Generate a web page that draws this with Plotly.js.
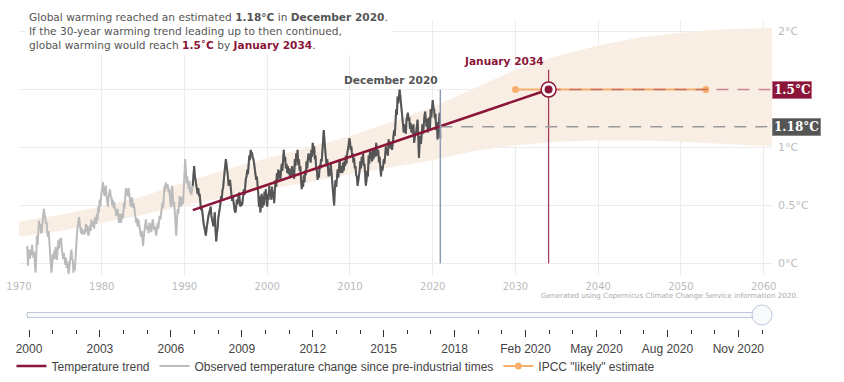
<!DOCTYPE html>
<html><head><meta charset="utf-8">
<script src="https://cdn.plot.ly/plotly-3.0.1.min.js"></script>
<style>html,body{margin:0;padding:0;background:#fff}</style>
</head><body><div id="chart" style="width:844px;height:382px"></div>
<script>
// ---- data ----
const obsStartYear = 1971;
const observed = [
 0.15,-0.02,0.08,0.12,0.04,0.12,0.07,0.16,0.09,0.05,0.10,0.03,
 -0.08,0.05,0.24,0.16,0.30,0.37,0.30,0.34,0.26,0.28,0.34,0.40,
 0.47,0.42,0.40,0.34,0.36,0.27,0.23,0.28,0.18,0.17,0.08,-0.08,
 -0.02,0.08,0.03,0.11,0.04,0.14,0.07,0.03,0.12,0.20,0.13,0.21,
 0.18,0.22,0.13,0.10,0.04,0.09,0.01,-0.01,0.05,-0.04,0.02,-0.05,
 -0.09,-0.03,0.04,0.09,0.12,0.04,0.03,-0.08,-0.01,-0.06,0.10,0.21,
 0.25,0.31,0.35,0.40,0.35,0.32,0.26,0.31,0.25,0.27,0.29,0.25,
 0.30,0.34,0.27,0.33,0.26,0.24,0.29,0.33,0.28,0.38,0.32,0.36,
 0.35,0.30,0.40,0.36,0.34,0.43,0.37,0.49,0.44,0.55,0.49,0.58,
 0.61,0.67,0.70,0.62,0.58,0.64,0.67,0.58,0.55,0.49,0.57,0.61,
 0.64,0.58,0.57,0.50,0.55,0.48,0.53,0.46,0.47,0.41,0.45,0.47,
 0.42,0.35,0.40,0.43,0.35,0.38,0.43,0.39,0.52,0.47,0.58,0.65,
 0.63,0.59,0.58,0.65,0.60,0.53,0.49,0.54,0.57,0.48,0.52,0.49,
 0.45,0.39,0.35,0.39,0.32,0.38,0.33,0.29,0.28,0.23,0.28,0.20,
 0.15,0.23,0.27,0.32,0.38,0.32,0.29,0.32,0.26,0.35,0.31,0.28,
 0.27,0.34,0.38,0.33,0.29,0.32,0.25,0.24,0.29,0.35,0.30,0.38,
 0.41,0.38,0.44,0.48,0.52,0.48,0.60,0.67,0.62,0.70,0.65,0.68,
 0.67,0.61,0.64,0.57,0.49,0.56,0.67,0.60,0.49,0.53,0.43,0.38,
 0.24,0.36,0.47,0.43,0.52,0.58,0.52,0.49,0.56,0.57,0.51,0.60,
 0.78,0.90,0.82,0.69,0.75,0.66,0.64,0.71,0.61,0.66,0.59,0.63,
 0.67,0.76,0.84,0.76,0.72,0.68,0.67,0.60,0.65,0.58,0.60,0.53,
 0.46,0.49,0.42,0.41,0.33,0.31,0.26,0.24,0.30,0.35,0.39,0.42,
 0.44,0.48,0.49,0.41,0.38,0.33,0.32,0.37,0.44,0.29,0.19,0.26,
 0.30,0.39,0.42,0.47,0.51,0.58,0.54,0.63,0.65,0.72,0.77,0.84,
 0.90,0.85,0.81,0.75,0.67,0.71,0.72,0.66,0.62,0.54,0.58,0.51,
 0.49,0.45,0.44,0.49,0.55,0.51,0.58,0.61,0.55,0.49,0.53,0.50,
 0.52,0.56,0.64,0.59,0.68,0.73,0.75,0.81,0.77,0.86,0.93,0.89,
 0.98,0.95,0.95,0.91,0.90,0.86,0.82,0.76,0.72,0.75,0.69,0.60,
 0.49,0.58,0.44,0.52,0.60,0.48,0.58,0.50,0.62,0.55,0.64,0.52,
 0.49,0.60,0.55,0.67,0.58,0.63,0.55,0.66,0.57,0.62,0.52,0.62,
 0.72,0.66,0.78,0.70,0.81,0.74,0.80,0.72,0.79,0.86,0.80,0.92,
 0.98,0.88,0.92,0.82,0.86,0.78,0.84,0.77,0.82,0.74,0.81,0.76,
 0.84,0.76,0.80,0.73,0.90,0.84,0.95,0.88,0.98,0.85,0.90,0.80,
 0.84,0.72,0.64,0.72,0.66,0.76,0.70,0.80,0.76,0.88,0.82,0.91,
 0.95,0.89,0.93,0.87,0.98,0.92,1.04,0.95,1.01,0.90,0.93,0.81,
 0.81,0.72,0.78,0.74,0.85,0.82,0.90,0.88,0.96,1.03,1.15,1.06,
 0.98,0.90,0.84,0.90,0.80,0.75,0.82,0.76,0.87,0.78,0.70,0.61,
 0.55,0.50,0.64,0.72,0.66,0.78,0.81,0.74,0.85,0.90,0.82,0.78,
 0.84,0.78,0.87,0.80,0.88,0.84,0.93,0.86,0.95,0.98,1.02,1.08,
 1.05,0.98,1.01,0.93,0.95,0.87,0.91,0.82,0.84,0.76,0.75,0.67,
 0.71,0.76,0.80,0.88,0.82,0.92,0.86,0.95,0.84,0.86,0.73,0.67,
 0.72,0.80,0.75,0.93,0.86,0.98,0.91,0.96,0.88,0.98,0.90,0.94,
 0.98,0.92,1.04,0.96,0.93,0.98,0.87,0.92,0.82,0.75,0.84,0.80,
 0.84,0.90,0.86,0.96,1.01,0.94,0.99,0.93,1.07,1.00,1.05,0.99,
 1.04,0.98,1.03,1.06,1.15,1.10,1.22,1.33,1.28,1.44,1.38,1.46,
 1.50,1.44,1.38,1.30,1.27,1.19,1.13,1.20,1.14,1.12,1.24,1.30,
 1.30,1.23,1.26,1.16,1.21,1.13,1.19,1.12,1.20,1.04,1.10,1.13,
 1.13,1.20,1.24,1.10,0.91,1.04,1.10,1.03,1.15,1.20,1.12,1.27,
 1.27,1.31,1.22,1.18,1.25,1.13,1.20,1.26,1.16,1.33,1.26,1.38,
 1.41,1.34,1.33,1.25,1.29,1.15,1.22,1.07,1.14,1.19,1.30,1.08
];
const windowStartYear = 1991;
const trendYears = [1991.0, 2034.0];
const trendValues = [0.46, 1.5];
const bandYears = [1970,1975,1980,1985,1990,1995,2000,2005,2010,2015,2020,2025,2030,2035,2040,2045,2050,2055,2061];
const bandUpper = [0.36,0.42,0.49,0.58,0.70,0.81,0.91,1.00,1.10,1.22,1.35,1.51,1.67,1.79,1.88,1.95,1.99,2.02,2.03];
const bandLower = [0.23,0.28,0.35,0.42,0.50,0.57,0.64,0.70,0.77,0.83,0.89,0.97,1.02,1.05,1.06,1.06,1.05,1.03,1.01];
const latestYear = 2020 + 11/12;   // December 2020
const latestTrend = 1.18;
const targetYear = 2034.0;        // January 2034
const targetTemp = 1.5;
const ipccYears = [2030, 2053];
const ipccValues = [1.5, 1.5];
const xTicks = [1970,1980,1990,2000,2010,2020,2030,2040,2050,2060];
const yTicks = [0,0.5,1,1.5,2];
const yTickLabels = ['0°C','0.5°C','1°C','','2°C'];
const sliderLabels = ['2000','2001','2002','2003','2004','2005','2006','2007','2008','2009',
 '2010','2011','2012','2013','2014','2015','2016','2017','2018','2019',
 'Jan 2020','Feb 2020','Mar 2020','Apr 2020','May 2020','Jun 2020','Jul 2020','Aug 2020','Sep 2020','Oct 2020','Nov 2020','Dec 2020'];

// ---- styles ----
const RED = '#8b1538', DARK = '#555555', LIGHT = '#bbbbbb', ORANGE = '#f7b06c', BAND = '#f9eee4';
const xEnd = 2061;
const obsX = observed.map((v,i)=>obsStartYear + i/12);
const winIdx = (windowStartYear-obsStartYear)*12;

const traces = [
 {x: bandYears.concat(bandYears.slice().reverse()), y: bandUpper.concat(bandLower.slice().reverse()),
  fill:'toself', fillcolor:BAND, line:{width:0}, mode:'lines', hoverinfo:'skip', showlegend:false},
 {x: obsX, y: observed, mode:'lines', line:{color:LIGHT, width:2}, name:'Observed temperature change since pre-industrial times', legendrank:2},
 {x: obsX.slice(winIdx), y: observed.slice(winIdx), mode:'lines', line:{color:DARK, width:2}, showlegend:false},
 {x: trendYears, y: trendValues, mode:'lines', line:{color:RED, width:2.5}, name:'Temperature trend', legendrank:1},
 {x:[latestYear, latestYear], y:[0, targetTemp], mode:'lines', line:{color:'#8e9bb2', width:1.5}, showlegend:false, hoverinfo:'skip'},
 {x:[targetYear, targetYear], y:[0, 1.67], mode:'lines', line:{color:'rgba(150,30,70,0.85)', width:1.3}, showlegend:false, hoverinfo:'skip'},
 {x:[latestYear, xEnd], y:[latestTrend, latestTrend], mode:'lines', line:{color:'#9a9a9a', width:1.5, dash:'12px,9px'}, showlegend:false, hoverinfo:'skip'},
 {x: ipccYears, y: ipccValues, mode:'lines+markers', line:{color:ORANGE, width:2}, marker:{color:ORANGE, size:7}, name:'IPCC "likely" estimate', legendrank:3},
 {x:[targetYear, xEnd], y:[targetTemp, targetTemp], mode:'lines', line:{color:'rgba(170,60,90,0.6)', width:1.5, dash:'12px,9px'}, showlegend:false, hoverinfo:'skip'},
 {x:[targetYear], y:[targetTemp], mode:'markers', marker:{size:15, color:'#ffffff', line:{color:RED, width:1.5}}, showlegend:false, hoverinfo:'skip'},
 {x:[targetYear], y:[targetTemp], mode:'markers', marker:{size:8, color:RED}, showlegend:false, hoverinfo:'skip'}
];

const layout = {
 width:844, height:382,
 margin:{l:19, r:72, t:20, b:107, autoexpand:false},
 paper_bgcolor:'#fff', plot_bgcolor:'#fff',
 font:{family:'DejaVu Sans', color:'#555'},
 showlegend:true,
 xaxis:{range:[1970, xEnd], tickmode:'array', tickvals:xTicks, ticktext:xTicks.map(String),
   tickfont:{size:10, color:'#bbb'}, gridcolor:'#ececec', zeroline:false, showline:false, fixedrange:true, automargin:false, ticklabelstandoff:4},
 yaxis:{range:[-0.1, 2.1], side:'right', tickmode:'array', tickvals:yTicks, ticktext:yTickLabels,
   tickfont:{size:11, color:'#bbb'}, gridcolor:'#ececec', zeroline:false, showline:false, fixedrange:true, ticklabelstandoff:5, automargin:false},
 legend:{orientation:'h', x:-0.01, xanchor:'left', y:-0.357, yanchor:'middle',
   font:{family:'Liberation Sans', size:12, color:'#444'}, bgcolor:'rgba(0,0,0,0)'},
 sliders:[{active:sliderLabels.length-1, steps: sliderLabels.map(l=>({label:l, method:'skip', args:[]})),
   x:0, len:1, xanchor:'left', y:-0.118, yanchor:'top', pad:{t:0,b:0,l:0,r:0},
   currentvalue:{visible:false}, font:{family:'Liberation Sans', size:12, color:'#444'},
   ticklen:7, minorticklen:4, tickcolor:'#333'}],
 annotations:[
  {xref:'paper', yref:'paper', x:0.008, y:1.05, xanchor:'left', yanchor:'top', align:'left', showarrow:false,
   bgcolor:'#ffffff', borderpad:3, font:{size:10.6, color:'#555'},
   text:'Global warming reached an estimated <b>1.18°C</b> in <b>December 2020</b>.<br>If the 30-year warming trend leading up to then continued,<br>global warming would reach <b><span style="color:#8b1538">1.5˚C</span></b> by <b><span style="color:#8b1538">January 2034</span></b>.'},
  {x:latestYear, y:1.586, xanchor:'right', yanchor:'middle', showarrow:false, font:{size:10.6, color:'#555'}, text:'<b>December 2020</b>'},
  {x:targetYear, y:1.75, xanchor:'right', xshift:-3, yanchor:'middle', showarrow:false, font:{size:10.6, color:RED}, text:'<b>January 2034</b>'},
  {xref:'paper', x:1, y:targetTemp, xanchor:'left', yanchor:'middle', showarrow:false, bgcolor:RED, bordercolor:'#c27088', borderwidth:1, borderpad:1,
   font:{family:'DejaVu Serif', size:12, color:'#fff'}, text:'<b>1.5°C</b>'},
  {xref:'paper', x:1, y:latestTrend, xanchor:'left', yanchor:'middle', showarrow:false, bgcolor:'#555', bordercolor:'#888', borderwidth:1, borderpad:1,
   font:{family:'DejaVu Serif', size:12, color:'#fff'}, text:'<b>1.18°C</b>'},
  {xref:'paper', yref:'paper', x:1.037, y:-0.082, xanchor:'right', yanchor:'middle', showarrow:false,
   font:{size:7.2, color:'#aaa'}, text:'Generated using Copernicus Climate Change Service information 2020.'}
 ]
};
Plotly.newPlot('chart', traces, layout, {displayModeBar:false});
</script>
</body></html>
